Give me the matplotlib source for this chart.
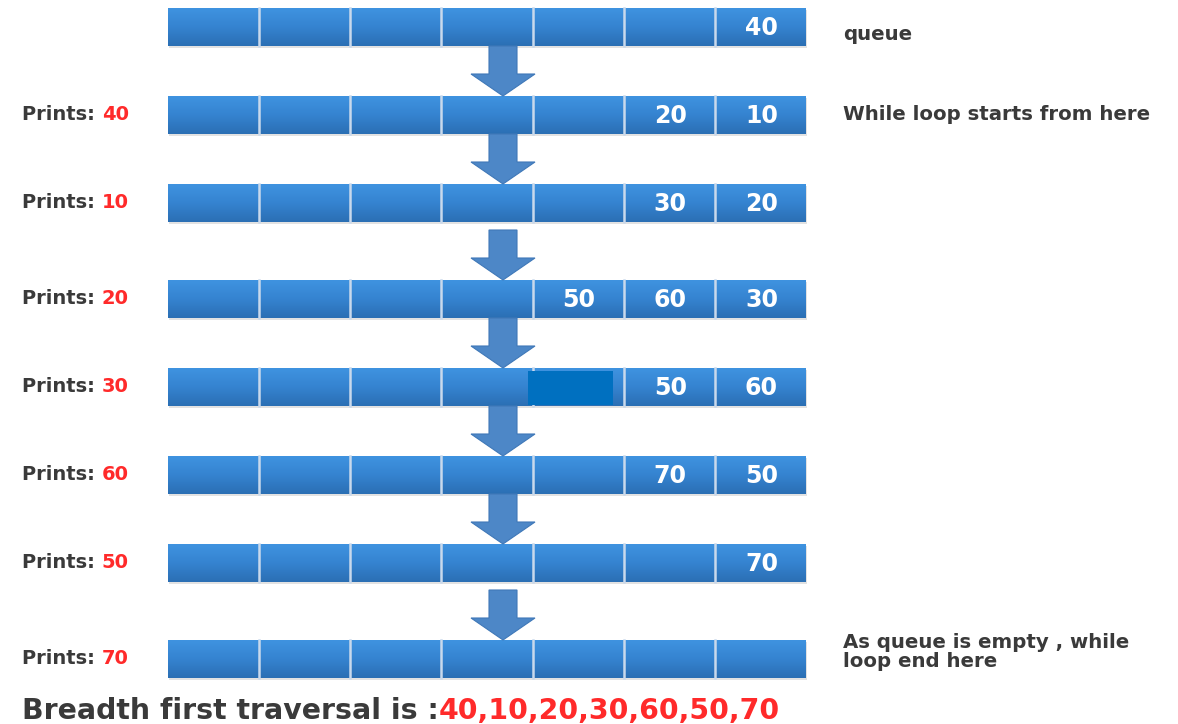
import matplotlib
matplotlib.use("Agg")
import matplotlib.pyplot as plt
import numpy as np
from matplotlib.patches import Rectangle, FancyArrow
from matplotlib.colors import LinearSegmentedColormap

# ---- data ----
queue_states = [
    [40],
    [20, 10],
    [30, 20],
    [50, 60, 30],
    [None, 50, 60],
    [70, 50],
    [70],
    [],
]
printed = [None, 40, 10, 20, 30, 60, 50, 70]
masked_cells = [(4, 4)]  # (row, cell) covered by a solid block
right_notes = {0: "queue", 1: "While loop starts from here", 7: "As queue is empty , while\nloop end here"}
result_label = "Breadth first traversal is :"
result_values = [40, 10, 20, 30, 60, 50, 70]

# ---- layout ----
W, H = 1178, 724
n_cells = 7
bar_left, bar_right = 168, 806
row_tops = [8, 96, 184, 280, 368, 456, 544, 640]
bar_h = 38
arrow_x = 503
note_y = {0: 35, 1: 114, 7: 652}

fig = plt.figure(figsize=(W / 100, H / 100), dpi=100)
ax = fig.add_axes([0, 0, 1, 1])
ax.set_xlim(0, W)
ax.set_ylim(H, 0)
ax.axis("off")

cmap = LinearSegmentedColormap.from_list("bar", ["#3f93e0", "#3583d0", "#2b6fb4"])
grad = np.linspace(0, 1, 64).reshape(-1, 1)
edges = np.linspace(bar_left, bar_right, n_cells + 1)

dark = "#3a3a3a"
red = "#ff2a2a"

for r, top in enumerate(row_tops):
    # shadow
    ax.add_patch(Rectangle((bar_left + 1, top + 2), bar_right - bar_left, bar_h,
                           facecolor="#d0d0d0", edgecolor="none", alpha=0.6, zorder=1))
    ax.imshow(grad, cmap=cmap, aspect="auto",
              extent=(bar_left, bar_right, top + bar_h, top), zorder=2)
    for e in edges[1:-1]:
        ax.plot([e, e], [top, top + bar_h], color="#c9d9ec", lw=1.8, zorder=3)
    vals = queue_states[r]
    start = n_cells - len(vals)
    for i, v in enumerate(vals):
        if v is None:
            continue
        c = start + i
        ax.text((edges[c] + edges[c + 1]) / 2 + 1, top + bar_h / 2 + 1, str(v),
                color="white", fontsize=17, fontweight="bold", family="DejaVu Sans",
                ha="center", va="center", zorder=4)
    # left label
    if printed[r] is not None:
        t = ax.text(22, top + bar_h / 2 - 1, "Prints: ", color=dark, fontsize=14,
                    fontweight="bold", family="DejaVu Sans", ha="left", va="center", zorder=4)
        ax.annotate(str(printed[r]), xy=(1, 0), xycoords=t, ha="left", va="bottom",
                    color=red, fontsize=14, fontweight="bold", family="DejaVu Sans")
    if r in right_notes:
        ax.text(843, note_y[r], right_notes[r], color=dark,
                fontsize=14.2, fontweight="bold", family="DejaVu Sans", ha="left",
                va="center", linespacing=1.0, zorder=4)

for (r, c) in masked_cells:
    top = row_tops[r]
    ax.add_patch(Rectangle((edges[c] - 5, top + 3), edges[c + 1] - edges[c] - 6, bar_h - 4,
                           facecolor="#0070c0", edgecolor="none", zorder=5))

# arrows
for r in range(len(row_tops) - 1):
    y_end = row_tops[r + 1]
    y_start = max(row_tops[r] + bar_h, y_end - 50)
    ax.add_patch(FancyArrow(arrow_x, y_start, 0, y_end - y_start, width=28,
                            head_width=64, head_length=22, length_includes_head=True,
                            facecolor="#4d87c7", edgecolor="#3f78b8", lw=0.8, zorder=6))

t = ax.text(22, 711, result_label, color=dark, fontsize=20.4, fontweight="bold",
            family="DejaVu Sans", ha="left", va="center")
ax.annotate(",".join(str(v) for v in result_values), xy=(1, 0), xycoords=t,
            ha="left", va="bottom", color=red, fontsize=20.4, fontweight="bold",
            family="DejaVu Sans")

fig.savefig("out.png", dpi=100)
